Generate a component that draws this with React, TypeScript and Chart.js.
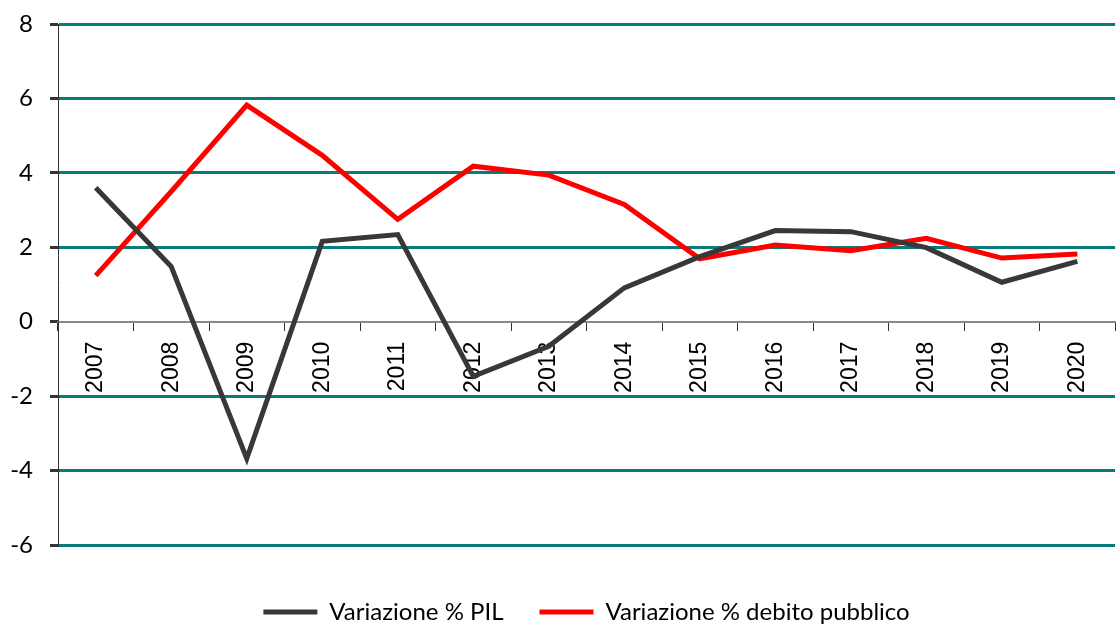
import React, { useEffect, useRef } from "react";
import { Chart, registerables } from "chart.js";

Chart.register(...registerables);

const years = ["2007", "2008", "2009", "2010", "2011", "2012", "2013", "2014", "2015", "2016", "2017", "2018", "2019", "2020"];
const pil = [3.6, 1.48, -3.68, 2.16, 2.34, -1.47, -0.66, 0.91, 1.75, 2.45, 2.42, 1.99, 1.06, 1.62];
const debito = [1.24, 3.5, 5.82, 4.47, 2.75, 4.18, 3.94, 3.15, 1.69, 2.06, 1.91, 2.24, 1.71, 1.82];
const yTicks = [-6, -4, -2, 0, 2, 4, 6, 8];

const pilLabel = "Variazione % PIL";
const debitoLabel = "Variazione % debito pubblico";

export default function App() {
  const ref = useRef<HTMLCanvasElement | null>(null);

  useEffect(() => {
    if (!ref.current) return;
    const chart = new Chart(ref.current, {
      type: "line",
      data: {
        labels: years,
        datasets: [
          {
            label: pilLabel,
            data: pil,
            borderColor: "#383838",
            backgroundColor: "#383838",
            borderWidth: 5,
            pointRadius: 0,
            tension: 0,
          },
          {
            label: debitoLabel,
            data: debito,
            borderColor: "#ff0000",
            backgroundColor: "#ff0000",
            borderWidth: 5,
            pointRadius: 0,
            tension: 0,
          },
        ],
      },
      options: {
        animation: false,
        responsive: true,
        maintainAspectRatio: false,
        layout: { padding: { top: 24, right: 0, left: 0, bottom: -8 } },
        plugins: {
          tooltip: { enabled: false },
          legend: {
            position: "bottom",
            fullSize: false,
            title: { display: true, text: "", padding: { top: 4.6, bottom: 0 } },
            labels: {
              usePointStyle: true,
              pointStyle: "line",
              pointStyleWidth: 54,
              padding: 36,
              color: "#000",
              font: { family: "Lato", size: 24 },
            },
          },
        },
        scales: {
          x: {
            position: { y: 0 },
            offset: true,
            grid: {
              display: true,
              drawOnChartArea: false,
              drawTicks: true,
              tickLength: 8,
              tickColor: "#333",
              offset: true,
              lineWidth: 1,
            },
            border: { display: true, color: "#888", width: 2 },
            ticks: {
              minRotation: 90,
              maxRotation: 90,
              autoSkip: false,
              padding: 12,
              color: "#000",
              font: { family: "Liberation Sans", size: 23 },
            },
          },
          y: {
            min: -6,
            max: 8,
            afterFit: (s: any) => {
              s.width = 58;
              s.paddingTop = 0;
              s.paddingBottom = 0;
            },
            afterBuildTicks: (s: any) => {
              s.ticks = yTicks.map((v) => ({ value: v }));
            },
            grid: {
              color: (ctx: any) => (ctx.tick && ctx.tick.value === 0 ? "rgba(0,0,0,0)" : "#0a7b7b"),
              lineWidth: 3,
              drawTicks: true,
              tickLength: 8,
              tickColor: "#333",
            },
            border: { display: true, color: "#333", width: 1 },
            ticks: {
              padding: 17,
              color: "#000",
              font: { family: "Lato", size: 24 },
            },
          },
        },
      },
    });
    return () => chart.destroy();
  }, []);

  return (
    <div style={{ position: "fixed", left: 0, top: 0, width: 1117, height: 626, background: "#fff" }}>
      <canvas ref={ref} />
    </div>
  );
}
